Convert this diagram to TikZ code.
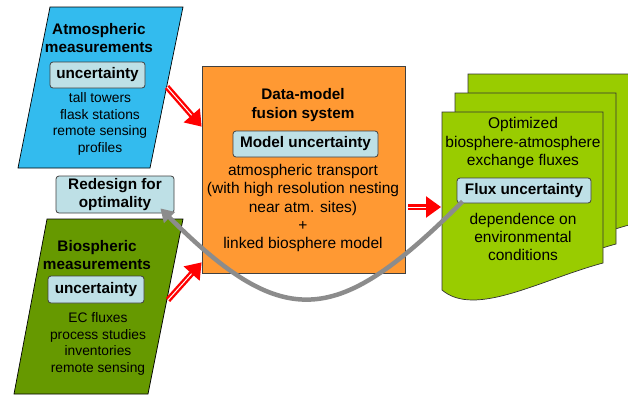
\documentclass[tikz,border=0pt]{standalone}
\usepackage{fontspec}
\setmainfont{Liberation Sans}
\usetikzlibrary{arrows.meta}
\definecolor{atmblue}{HTML}{33BBEE}
\definecolor{biogreen}{HTML}{669900}
\definecolor{fusionorange}{HTML}{FF9933}
\definecolor{fluxgreen}{HTML}{99CC00}
\definecolor{uncblue}{HTML}{BEE0E6}
\definecolor{loopgray}{HTML}{8C8C8C}

\begin{document}
\begin{tikzpicture}[x=1pt, y=-1pt,
    unc/.style={draw=black!75, fill=uncblue, rounded corners=3pt, line width=0.8pt, inner sep=0pt, align=center, font=\fontsize{15.3}{17.5}\selectfont\bfseries},
    head/.style={inner sep=0pt, align=center, font=\fontsize{15.3}{18.5}\selectfont\bfseries},
    txt/.style={inner sep=0pt, align=center, font=\fontsize{15.5}{18.3}\selectfont},
    small/.style={inner sep=0pt, align=center, font=\fontsize{13.8}{16.4}\selectfont},
    redarrow/.style={draw=red, double=white, double distance=1pt, line width=2.4pt, -{Triangle[length=15pt, width=21pt]}}]
  \useasboundingbox (0,0) rectangle (628,394);

  % measurement sheets
  \draw[fill=atmblue, line width=0.7pt] (50,7) -- (183,7) -- (150,168) -- (18,168) -- cycle;
  \draw[fill=biogreen, line width=0.7pt] (47,219) -- (183,219) -- (148,394) -- (14,394) -- cycle;
  \node[head] (atmtitle) at (99,38) {Atmospheric\\measurements};
  \node[unc, minimum width=95, minimum height=26] (atmunc) at (97.5,75) {uncertainty};
  \node[small] (atmlist) at (100,124) {tall towers\\flask stations\\remote sensing\\profiles};
  \node[head] (biotitle) at (97,255) {Biospheric\\measurements};
  \node[unc, minimum width=96, minimum height=27] (biounc) at (96,289.5) {uncertainty};
  \node[small] (biolist) at (98,344) {EC fluxes\\process studies\\inventories\\remote sensing};
  \coordinate (atmtail) at (167,87);
  \coordinate (biotail) at (168,300);

  \node[unc, minimum width=118, minimum height=37] (redesign) at (115,194.5) {Redesign for\\optimality};

  % fusion system
  \node[draw=black!75, fill=fusionorange, line width=0.8pt, minimum width=203, minimum height=207] (fusion) at (303.5,169.5) {};
  \node[head] (fusiontitle) at (303,105) {Data-model\\fusion system};
  \node[unc, minimum width=145, minimum height=26] (modelunc) at (305.5,144) {Model uncertainty};
  \node[txt] (fusionlist) at (303,208) {atmospheric transport\\(with high resolution nesting\\near atm. sites)\\+\\linked biosphere model};

  % optimized flux documents
  \foreach \dx/\dy in {26/-38, 13/-19, 0/0}
    \draw[fill=fluxgreen, draw=black!80, line width=0.7pt, shift={(\dx,\dy)}] (442,112) -- (603,112) -- (603,263) .. controls (540,280) and (475,318) .. (442,290) -- cycle;
  \node[txt] (fluxtitle) at (523,143) {Optimized\\biosphere-atmosphere\\exchange fluxes};
  \node[unc, minimum width=134, minimum height=25] (fluxunc) at (524,190.5) {Flux uncertainty};
  \node[txt] (fluxlist) at (523,237) {dependence on\\environmental\\conditions};
  \coordinate (doctip) at (441,207);

  \draw[redarrow] (atmtail) -- ([yshift=-61pt]fusion.north west);
  \draw[redarrow] (biotail) -- ([yshift=11pt]fusion.south west);
  \draw[redarrow] ([xshift=3pt, yshift=-37.5pt]fusion.east) -- (doctip);

  \draw[loopgray, line width=4.5pt, -{Triangle[length=13pt, width=15pt]}] ([xshift=6pt, yshift=2pt]fluxunc.south west) .. controls (338,326) and (285,333) .. ([xshift=-14pt, yshift=5pt]redesign.south east);
\end{tikzpicture}
\end{document}
